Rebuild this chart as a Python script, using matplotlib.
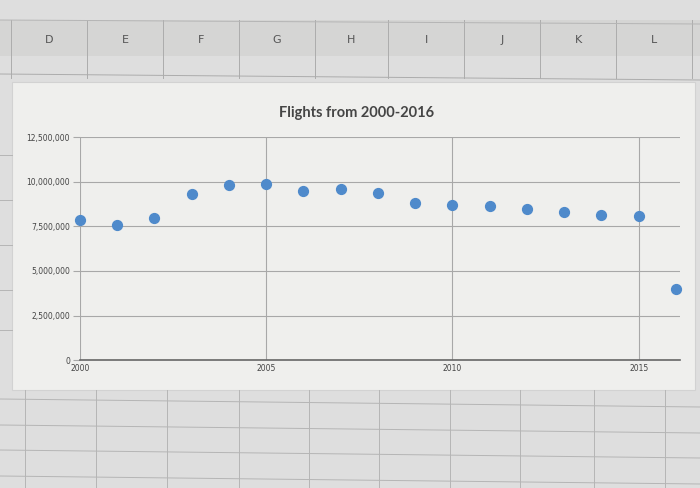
import numpy as np
import matplotlib.pyplot as plt
from matplotlib.patches import Rectangle
from matplotlib.ticker import FuncFormatter

############# Datos ################
years = [2000, 2001, 2002, 2003, 2004, 2005, 2006, 2007, 2008,
         2009, 2010, 2011, 2012, 2013, 2014, 2015, 2016]
flights = [7870000, 7550000, 7960000, 9330000, 9820000, 9850000, 9470000, 9570000, 9360000,
           8780000, 8710000, 8650000, 8450000, 8320000, 8110000, 8070000, 3960000]

y_ticks = [0, 2500000, 5000000, 7500000, 10000000, 12500000]
x_ticks = [2000, 2005, 2010, 2015]
columnas = ['D', 'E', 'F', 'G', 'H', 'I', 'J', 'K', 'L']

############# Figura ################
fig = plt.figure(figsize=(7, 4.88), dpi=100, facecolor='#dedede')

# Fondo de la hoja de calculo (en pixeles)
bg = fig.add_axes([0, 0, 1, 1], zorder=0)
bg.set_xlim(0, 700)
bg.set_ylim(488, 0)
bg.axis('off')

# cabecera de columnas
bg.add_patch(Rectangle((0, 20), 700, 36, color='#d5d5d4', lw=0))
col_top = [11, 87, 163, 239, 315, 388, 464, 540, 616, 692]
for x in col_top:
    bg.plot([x, x], [20, 78], color='#acacac', lw=0.7)
bg.plot([0, 700], [20, 24], color='#b5b5b5', lw=0.7)
bg.plot([0, 700], [74, 80], color='#acacac', lw=0.7)
for i, c in enumerate(columnas):
    bg.text((col_top[i] + col_top[i + 1]) / 2, 40, c, ha='center', va='center',
            fontsize=8, color='#555555', family='DejaVu Sans')

# celdas debajo del grafico
col_bot = [25, 96, 167, 239, 309, 379, 450, 520, 594, 665]
for x in col_bot:
    bg.plot([x, x], [390, 488], color='#b5b5b5', lw=0.7)
for y in [403, 429, 454, 480]:
    bg.plot([0, 700], [y - 4, y + 4], color='#b5b5b5', lw=0.7)
for y in [155, 200, 245, 290, 330]:
    bg.plot([0, 12], [y, y], color='#b5b5b5', lw=0.7)

# panel del grafico
bg.add_patch(Rectangle((12, 82), 683, 308, facecolor='#efefed', edgecolor='#d2d2d2', lw=0.8))

# titulo centrado en el panel
bg.text(357, 113, 'Flights from 2000-2016', ha='center', va='center', fontsize=10.5,
        fontweight='bold', color='#454545', family='Lato')

############# Grafico ################
ax = fig.add_axes([0.114, 0.262, 0.857, 0.457], zorder=1)
ax.set_facecolor('none')

ax.scatter(years, flights, s=50, color='#4f8acb', zorder=3, clip_on=False)

ax.set_xlim(2000, 2016.1)
ax.set_ylim(0, 12500000)
ax.set_xticks(x_ticks)
ax.set_yticks(y_ticks)
ax.yaxis.set_major_formatter(FuncFormatter(lambda v, p: '{:,.0f}'.format(v)))

ax.grid(True, color='#a8a8a8', lw=0.8)
ax.set_axisbelow(True)
for s in ['top', 'right', 'left']:
    ax.spines[s].set_visible(False)
ax.spines['bottom'].set_color('#666666')
ax.spines['bottom'].set_linewidth(1.2)

ax.tick_params(axis='y', length=5, color='#a8a8a8', labelsize=5.5, labelcolor='#444444', pad=2)
ax.tick_params(axis='x', length=0, labelsize=5.5, labelcolor='#444444', pad=3)

plt.savefig('out.png', dpi=100, facecolor=fig.get_facecolor())
